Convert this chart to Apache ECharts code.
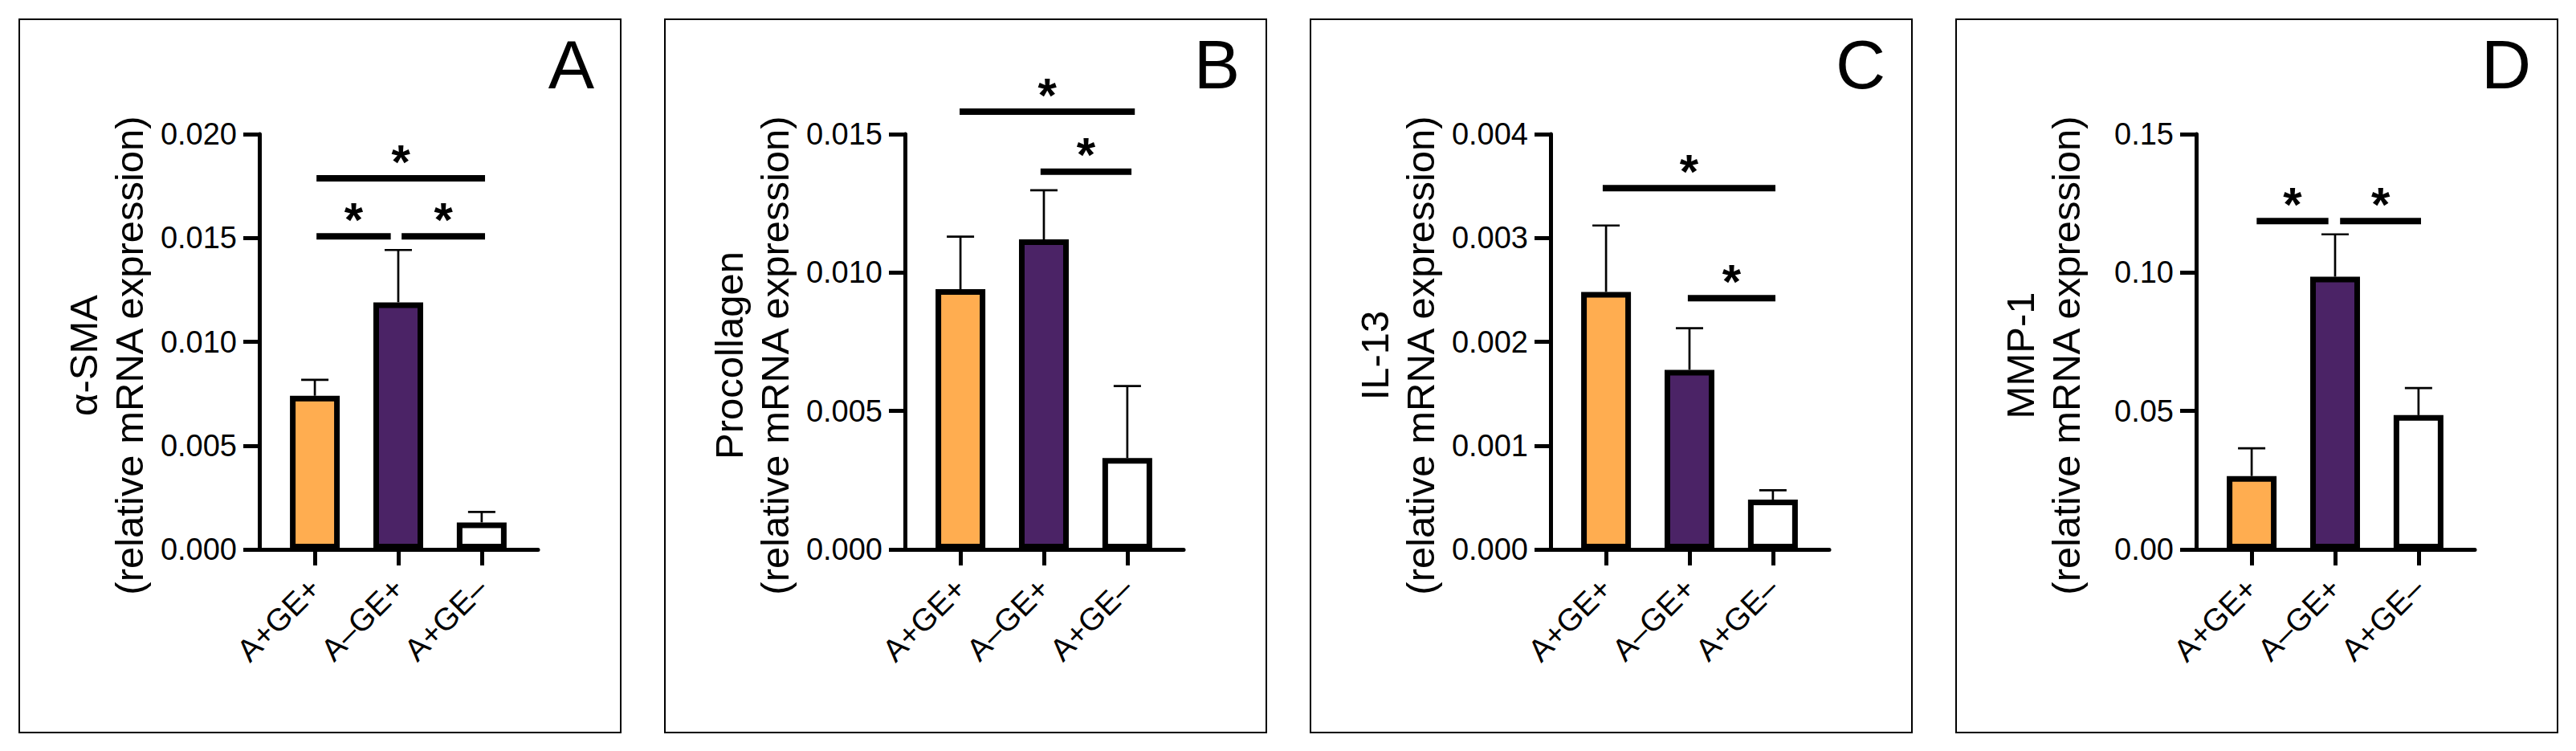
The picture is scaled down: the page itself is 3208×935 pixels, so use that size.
<!DOCTYPE html>
<html>
<head>
<meta charset="utf-8">
<script src="https://cdn.jsdelivr.net/npm/echarts@6/dist/echarts.min.js"></script>
<style>
html,body{margin:0;padding:0;background:#fff;}
#chart{width:3208px;height:935px;}
</style>
</head>
<body>
<div id="chart"></div>
<script>
// ---- data ----
const categories = ['A+GE+', 'A\u2013GE+', 'A+GE\u2013'];
const panelLetters = ['A', 'B', 'C', 'D'];
const yTitles = ['\u03b1-SMA', 'Procollagen', 'IL-13', 'MMP-1'];
const yMax = [0.020, 0.015, 0.004, 0.15];
const yInterval = [0.005, 0.005, 0.001, 0.05];
const yDecimals = [3, 3, 3, 2];

const smaMean = [0.0074, 0.0119, 0.0013];
const smaSem = [0.00077, 0.00252, 0.0005];
const procMean = [0.0094, 0.0112, 0.0033];
const procSem = [0.0019, 0.00177, 0.0026];
const il13Mean = [0.00248, 0.00173, 0.00048];
const il13Sem = [0.00064, 0.0004, 0.00009];
const mmpMean = [0.0265, 0.0985, 0.0485];
const mmpSem = [0.0100, 0.0153, 0.0098];

// significance bars: [from category, to category, height]
const smaSig = [[0.02, 2.04, 0.01787], [0.02, 0.91, 0.01508], [1.04, 2.04, 0.01508]];
const procSig = [[-0.01, 2.09, 0.01581], [0.96, 2.05, 0.01364]];
const il13Sig = [[-0.04, 2.03, 0.00348], [0.98, 2.03, 0.00242]];
const mmpSig = [[0.06, 0.92, 0.1186], [1.06, 2.03, 0.1186]];

const barColors = ['#FFAD50', '#4B2366', '#FFFFFF'];

const means = [smaMean, procMean, il13Mean, mmpMean];
const sems = [smaSem, procSem, il13Sem, mmpSem];
const sigs = [smaSig, procSig, il13Sig, mmpSig];

// ---- layout ----
const FONT = '"Liberation Sans", Arial, Helvetica, sans-serif';
const W = 3208;
const panelStep = 804;
const frameX0 = 24, frameY = 24, frameW = 749, frameH = 888;
const gridTop = 167, gridH = 517, gridW = 347, gridOffset = 299;

const grids = [], xAxes = [], yAxes = [], series = [], titles = [], graphics = [];

for (let p = 0; p < 4; p++) {
  const fx = frameX0 + panelStep * p;
  graphics.push({
    type: 'rect', z: -1,
    shape: {x: fx, y: frameY, width: frameW, height: frameH},
    style: {fill: 'none', stroke: '#000', lineWidth: 2}
  });
  titles.push({
    text: panelLetters[p],
    right: W - (fx + frameW - 33),
    top: 37,
    padding: 0,
    textStyle: {fontSize: 86, fontWeight: 'normal', fontFamily: FONT, color: '#000'}
  });
  grids.push({left: fx + gridOffset, top: gridTop, width: gridW, height: gridH});
  xAxes.push({
    type: 'value', gridIndex: p, min: -0.665, max: 2.675,
    splitLine: {show: false},
    axisLine: {show: true, onZero: false, lineStyle: {color: '#000', width: 5}},
    axisTick: {show: true, customValues: [0, 1, 2], length: 20, lineStyle: {color: '#000', width: 5}},
    axisLabel: {
      customValues: [0, 1, 2], rotate: 45, margin: 42,
      fontSize: 39, fontFamily: FONT, color: '#000',
      formatter: v => categories[Math.round(v)]
    }
  });
  const dec = yDecimals[p];
  yAxes.push({
    type: 'value', gridIndex: p, min: 0, max: yMax[p], interval: yInterval[p],
    splitLine: {show: false},
    axisLine: {show: true, onZero: false, lineStyle: {color: '#000', width: 5}},
    axisTick: {show: true, length: 20, lineStyle: {color: '#000', width: 5}},
    axisLabel: {margin: 28, fontSize: 38, fontFamily: FONT, color: '#000', formatter: v => v.toFixed(dec)},
    name: yTitles[p] + '\n(relative mRNA expression)',
    nameLocation: 'middle', nameRotate: 90, nameGap: 134,
    nameTextStyle: {fontSize: 49, fontFamily: FONT, color: '#000', lineHeight: 57, padding: [0, 34, 0, 0]}
  });

  // bars
  series.push({
    type: 'bar', xAxisIndex: p, yAxisIndex: p, barWidth: 62, z: 3,
    data: means[p].map((m, i) => ({value: [i, m], itemStyle: {color: barColors[i]}})),
    itemStyle: {borderColor: '#000', borderWidth: 7}
  });
  // error bars (upper whiskers)
  series.push({
    type: 'custom', xAxisIndex: p, yAxisIndex: p, z: 2,
    data: means[p].map((m, i) => [i, m, sems[p][i]]),
    encode: {x: 0, y: 1},
    renderItem: function (params, api) {
      const x = api.value(0), m = api.value(1), e = api.value(2);
      const p0 = api.coord([x, m]);
      const p1 = api.coord([x, m + e]);
      const st = {stroke: '#000', lineWidth: 2.7};
      return {type: 'group', children: [
        {type: 'line', shape: {x1: p0[0], y1: p0[1], x2: p1[0], y2: p1[1]}, style: st},
        {type: 'line', shape: {x1: p1[0] - 17, y1: p1[1], x2: p1[0] + 17, y2: p1[1]}, style: st}
      ]};
    }
  });
  // significance bars
  series.push({
    type: 'custom', xAxisIndex: p, yAxisIndex: p, z: 4, clip: false,
    data: sigs[p],
    encode: {x: 0, y: 2},
    renderItem: function (params, api) {
      const a = api.coord([api.value(0), api.value(2)]);
      const b = api.coord([api.value(1), api.value(2)]);
      return {type: 'group', children: [
        {type: 'line', shape: {x1: a[0], y1: a[1], x2: b[0], y2: b[1]}, style: {stroke: '#000', lineWidth: 8}},
        {type: 'text', style: {
          text: '*', x: (a[0] + b[0]) / 2, y: a[1] - 21,
          textAlign: 'center', textVerticalAlign: 'middle',
          font: 'bold 60px ' + FONT, fill: '#000'
        }}
      ]};
    }
  });
}

const chart = echarts.init(document.getElementById('chart'), null, {renderer: 'svg'});
chart.setOption({
  animation: false,
  backgroundColor: '#fff',
  title: titles,
  grid: grids,
  xAxis: xAxes,
  yAxis: yAxes,
  series: series,
  graphic: graphics
});
</script>
</body>
</html>
